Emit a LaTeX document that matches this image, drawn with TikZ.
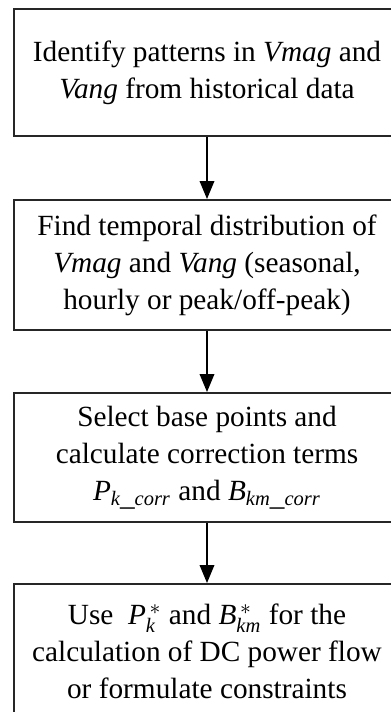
\documentclass[tikz,border=0pt]{standalone}
\usepackage{fontspec}
\setmainfont{Liberation Serif}
\usepackage{tikz}
\usetikzlibrary{arrows.meta,positioning}
\newcommand{\vmag}{\textit{Vmag}}
\newcommand{\vang}{\textit{Vang}}

\begin{document}
\begin{tikzpicture}[x=0.015cm, y=-0.015cm,
          every node/.style={font=\fontsize{12.5}{15.8}\selectfont},
          box/.style={draw=black!85, line width=0.85pt,
                      minimum width=5.79cm, align=center, inner sep=0pt},
          arr/.style={-{Triangle[length=2.7mm, width=2.2mm]}, line width=0.6pt}
      ]
        \clip (0,0) rectangle (391,712);
        \useasboundingbox (0,0) rectangle (391,712);

        \node[box, minimum height=1.905cm] (identify) at (207, 72.5)
              {Identify patterns in \vmag{} and \\ \vang{} from historical data};

        \node[box, minimum height=1.95cm] (temporal) at (207, 265)
              {Find temporal distribution of \\ \vmag{} and \vang{} (seasonal, \\ hourly or peak/off-peak)};

        \node[box, minimum height=1.935cm] (select) at (207, 457.5)
              {Select base points and \\ calculate correction terms \\
               $\mathit{P}_{\mathit{k\_corr}}$ and $\mathit{B}_{\mathit{km\_corr}}$};

        \node[box, minimum height=2.025cm] (use) at (207, 651.5)
              {Use \ $\mathit{P}_{\mathit{k}}^{\,*}$ and $\mathit{B}_{\mathit{km}}^{\,*}$ for the \\
               calculation of DC power flow \\ or formulate constraints};

        \draw[arr] (identify) -- (temporal);
        \draw[arr] (temporal) -- (select);
        \draw[arr] (select)   -- (use);
      \end{tikzpicture}
\end{document}
